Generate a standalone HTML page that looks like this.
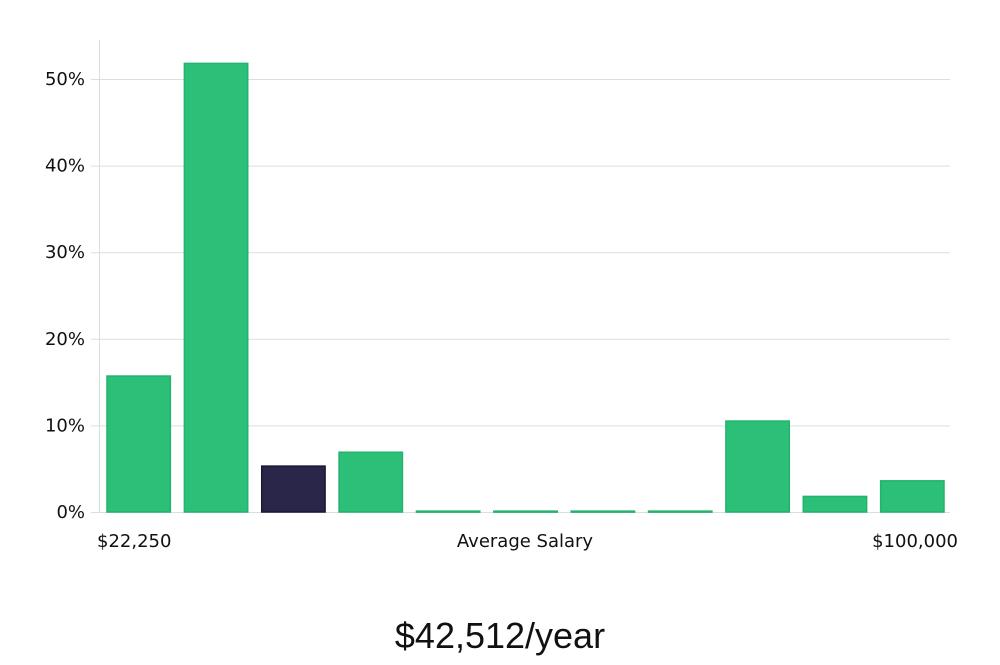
<!DOCTYPE html>
<html><head><meta charset="utf-8"><style>
body{margin:0;background:#fff;}
svg text{font-family:"DejaVu Sans","Liberation Sans",sans-serif;fill:#111;}
</style></head><body>
<svg width="1000" height="660">
<g id="grid"></g><g id="bars"></g><g id="ylabels"></g>
<line x1="99.5" y1="40" x2="99.5" y2="512" stroke="#ddd"/>
<text x="97" y="547" font-size="18">$22,250</text>
<text x="525" y="547" font-size="18" text-anchor="middle">Average Salary</text>
<text x="958" y="547" font-size="18" text-anchor="end">$100,000</text>
<text x="500" y="648" font-size="36" text-anchor="middle" style="font-family:'Liberation Sans',sans-serif;font-weight:300">$42,512/year</text>
</svg>
<script>
const values=[15.7,51.8,5.3,6.9,0.1,0.1,0.1,0.1,10.5,1.8,3.6];
const highlight=[false,false,true,false,false,false,false,false,false,false,false];
const ticks=[0,10,20,30,40,50];
const ns="http://www.w3.org/2000/svg";
const x0=99,x1=950,y0=512,pxPer=8.66;
const y=v=>y0-v*pxPer;
const step=(x1-x0)/values.length;
const g=document.getElementById('grid'),b=document.getElementById('bars'),yl=document.getElementById('ylabels');
ticks.forEach(t=>{
 const l=document.createElementNS(ns,'line');
 
 
 l.setAttribute('x1',x0-8);l.setAttribute('x2',x1);l.setAttribute('y1',y(t)+0.5);l.setAttribute('y2',y(t)+0.5);
 l.setAttribute('stroke','#ddd');g.appendChild(l);
 const tx=document.createElementNS(ns,'text');
 
 
 tx.setAttribute('x',85);tx.setAttribute('y',y(t)+6);tx.setAttribute('font-size','18');tx.setAttribute('text-anchor','end');
 tx.textContent=t+'%';yl.appendChild(tx);
});
values.forEach((v,i)=>{
 const r=document.createElementNS(ns,'rect');
 
 
 const bx=x0+i*step+8;
 r.setAttribute('x',bx);r.setAttribute('width',step-14);
 r.setAttribute('y',y(v));r.setAttribute('height',Math.max(1,v*pxPer));
 r.setAttribute('fill',highlight[i]?'#2a2649':'#2bbf77');
 r.setAttribute('stroke',highlight[i]?'#1a1733':'#22b36c');r.setAttribute('stroke-width','1.5');
 b.appendChild(r);
});
</script>
</body></html>
